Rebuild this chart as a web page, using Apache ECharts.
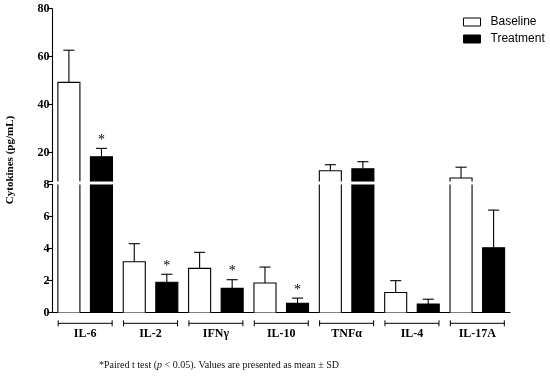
<!DOCTYPE html>
<html>
<head>
<meta charset="utf-8">
<script src="https://cdn.jsdelivr.net/npm/echarts@6/dist/echarts.min.js"></script>
<style>html,body{margin:0;padding:0;background:#fff;}#c{width:550px;height:384px;}</style>
</head>
<body>
<div id="c"></div>
<script>
const categories = ['IL-6', 'IL-2', 'IFNγ', 'IL-10', 'TNFα', 'IL-4', 'IL-17A'];
const baselineMean = [49.3, 3.17, 2.76, 1.84, 12.5, 1.25, 9.46];
const baselineSD = [13.4, 1.13, 1.0, 1.0, 2.5, 0.74, 4.5];
const treatmentMean = [18.3, 1.89, 1.51, 0.57, 13.3, 0.53, 4.05];
const treatmentSD = [3.5, 0.5, 0.54, 0.33, 2.95, 0.3, 2.35];
const significant = [1, 1, 1, 1, 0, 0, 0];
const lowerTicks = [0, 2, 4, 6, 8];
const upperTickValues = [8, 20, 40, 60, 80];
const upperLabelValues = [20, 40, 60, 80];
const BREAK = 8;

const SERIF = "'Liberation Serif', 'DejaVu Serif', serif";
const SANS = "'Liberation Sans', Arial, sans-serif";

function rows(means, sds, sig) {
  return categories.map((c, i) => [i, means[i], sds[i], sig ? sig[i] : 0]);
}

function makeRender(group, lower, fill) {
  return function (params, api) {
    const ci = api.value(0), v = api.value(1), sd = api.value(2), sig = api.value(3);
    const band = api.size([1, 0])[0];
    const w = band * 0.337;
    const off = (group === 0 ? -1 : 1) * band * 0.249;
    const cs = params.coordSys;
    const yBottom = api.coord([ci, lower ? 0 : BREAK])[1];
    const pTop = api.coord([ci, v]);
    const cx = pTop[0] + off;
    const yTopRaw = pTop[1];
    const children = [];
    if (yTopRaw >= yBottom - 0.01) return { type: 'group', children: [] };
    const clipped = yTopRaw < cs.y;
    const yTop = Math.max(yTopRaw, cs.y);
    const x0 = cx - w / 2, x1 = cx + w / 2;
    children.push({ type: 'rect', shape: { x: x0, y: yTop, width: w, height: yBottom - yTop }, style: { fill: fill } });
    const ls = { stroke: '#000', lineWidth: 1.1, fill: null };
    if (clipped) {
      children.push({ type: 'line', shape: { x1: x0, y1: yTop, x2: x0, y2: yBottom }, style: ls });
      children.push({ type: 'line', shape: { x1: x1, y1: yTop, x2: x1, y2: yBottom }, style: ls });
    } else {
      children.push({ type: 'polyline', shape: { points: [[x0, yBottom], [x0, yTop], [x1, yTop], [x1, yBottom]] }, style: ls });
      const ySD = api.coord([ci, v + sd])[1];
      const cap = band * 0.085;
      children.push({ type: 'line', shape: { x1: cx, y1: yTop, x2: cx, y2: ySD }, style: ls });
      children.push({ type: 'line', shape: { x1: cx - cap, y1: ySD, x2: cx + cap, y2: ySD }, style: ls });
      if (sig) {
        children.push({ type: 'text', x: cx, y: ySD - 1, style: { text: '*', fill: '#000', font: '14px ' + SERIF, align: 'center', verticalAlign: 'bottom' } });
      }
    }
    return { type: 'group', children: children };
  };
}

function bracketRender(params, api) {
  const ci = api.value(0);
  const band = api.size([1, 0])[0];
  const p = api.coord([ci, 0]);
  const y = p[1] + 10.8;
  const half = band * 0.413;
  const ls = { stroke: '#000', lineWidth: 1 };
  return {
    type: 'group', children: [
      { type: 'line', shape: { x1: p[0] - half, y1: y, x2: p[0] + half, y2: y }, style: ls },
      { type: 'line', shape: { x1: p[0] - half, y1: y - 3, x2: p[0] - half, y2: y + 3 }, style: ls },
      { type: 'line', shape: { x1: p[0] + half, y1: y - 3, x2: p[0] + half, y2: y + 3 }, style: ls }
    ]
  };
}

const chart = echarts.init(document.getElementById('c'), null, { renderer: 'canvas' });
const axisLabelStyle = { color: '#000', fontFamily: SERIF, fontWeight: 'bold', fontSize: 12 };
const lineStyle = { color: '#000', width: 1.1 };

chart.setOption({
  animation: false,
  backgroundColor: '#fff',
  legend: {
    orient: 'vertical', left: 463, top: 15, padding: 0, itemWidth: 17, itemHeight: 8, itemGap: 3,
    icon: 'rect',
    textStyle: { color: '#000', fontFamily: SANS, fontSize: 12, padding: [0, 0, 0, 5], lineHeight: 14 },
    data: [
      { name: 'Baseline', itemStyle: { color: '#fff', borderColor: '#000', borderWidth: 1 } },
      { name: 'Treatment', itemStyle: { color: '#000', borderColor: '#000', borderWidth: 1 } }
    ]
  },
  grid: [
    { left: 52.5, right: 40, top: 8.7, height: 172.8 },
    { left: 52.5, right: 40, top: 184.5, height: 128 }
  ],
  xAxis: [
    { type: 'category', gridIndex: 0, data: categories, show: false },
    {
      type: 'category', gridIndex: 1, data: categories,
      axisLine: { lineStyle: lineStyle }, axisTick: { show: false },
      axisLabel: Object.assign({ margin: 15, interval: 0 }, axisLabelStyle)
    }
  ],
  yAxis: [
    {
      type: 'value', gridIndex: 0, min: 8, max: 80,
      axisLine: { show: true, lineStyle: lineStyle },
      axisTick: { show: true, length: 5, lineStyle: lineStyle, customValues: upperTickValues },
      axisLabel: Object.assign({ margin: 3, customValues: upperLabelValues }, axisLabelStyle),
      splitLine: { show: false }
    },
    {
      type: 'value', gridIndex: 1, min: 0, max: 8, interval: 2,
      axisLine: { show: true, lineStyle: lineStyle },
      axisTick: { show: true, length: 5, lineStyle: lineStyle, customValues: lowerTicks },
      axisLabel: Object.assign({ margin: 3, customValues: lowerTicks }, axisLabelStyle),
      splitLine: { show: false }
    }
  ],
  graphic: [
    {
      type: 'text', x: 10, y: 160, rotation: Math.PI / 2,
      style: { text: 'Cytokines (pg/mL)', font: 'bold 11px ' + SERIF, fill: '#000', align: 'center', verticalAlign: 'middle' }
    },
    {
      type: 'text', x: 99, y: 365,
      style: {
        text: '*Paired t test ({i|p} < 0.05). Values are presented as mean ± SD',
        font: '10px ' + SERIF, fill: '#111', verticalAlign: 'middle',
        rich: { i: { fontStyle: 'italic', fontFamily: SERIF, fontSize: 10 } }
      }
    }
  ],
  series: [
    { name: 'Baseline', type: 'custom', xAxisIndex: 0, yAxisIndex: 0, clip: false, itemStyle: { color: '#fff', borderColor: '#000' }, renderItem: makeRender(0, false, '#fff'), data: rows(baselineMean, baselineSD) },
    { name: 'Treatment', type: 'custom', xAxisIndex: 0, yAxisIndex: 0, clip: false, itemStyle: { color: '#000' }, renderItem: makeRender(1, false, '#000'), data: rows(treatmentMean, treatmentSD, significant) },
    { name: 'Baseline', type: 'custom', xAxisIndex: 1, yAxisIndex: 1, clip: false, itemStyle: { color: '#fff', borderColor: '#000' }, renderItem: makeRender(0, true, '#fff'), data: rows(baselineMean, baselineSD) },
    { name: 'Treatment', type: 'custom', xAxisIndex: 1, yAxisIndex: 1, clip: false, itemStyle: { color: '#000' }, renderItem: makeRender(1, true, '#000'), data: rows(treatmentMean, treatmentSD, significant) },
    { name: 'brackets', type: 'custom', xAxisIndex: 1, yAxisIndex: 1, clip: false, silent: true, renderItem: bracketRender, data: categories.map((c, i) => [i]) }
  ]
});
</script>
</body>
</html>
